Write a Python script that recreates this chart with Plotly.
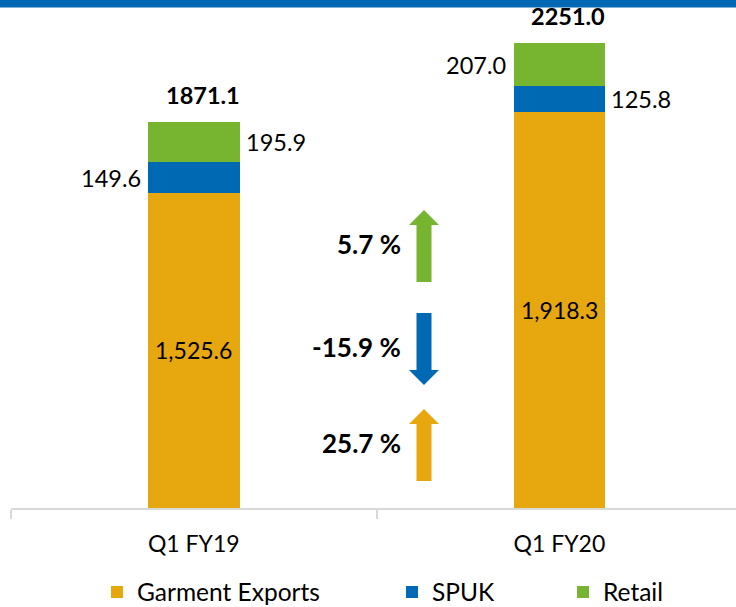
import plotly.graph_objects as go

# ---------------- data ----------------
categories = ["Q1 FY19", "Q1 FY20"]
garment_exports = [1525.6, 1918.3]
spuk = [149.6, 125.8]
retail = [195.9, 207.0]
totals = [1871.1, 2251.0]
series_names = ["Garment Exports", "SPUK", "Retail"]

# ---------------- style ----------------
C_GAR = "#E6A70F"
C_SPUK = "#0069B4"
C_RET = "#77B530"
FONT = "Lato"
W, H = 736, 607
ML, MR, MT, MB = 11, 0, 0, 99
PW, PH = W - ML - MR, H - MT - MB

def px(x):
    return (x - ML) / PW

def py(y):
    return (H - MB - y) / PH

series = [garment_exports, spuk, retail]
colors = [C_GAR, C_SPUK, C_RET]

fig = go.Figure()
legend_ids = ["legend", "legend2", "legend3"]
for name, vals, col, lg in zip(series_names, series, colors, legend_ids):
    fig.add_trace(go.Bar(
        x=categories, y=vals, name=name, marker=dict(color=col, line=dict(width=0)),
        width=0.25, legend=lg, hoverinfo="skip", showlegend=True,
    ))

def fmt_comma(v):
    return f"{v:,.1f}"

label_side = {  # side of bar for small segments, per category
    0: {"SPUK": "left", "Retail": "right"},
    1: {"SPUK": "right", "Retail": "left"},
}
annotations = []
for ci, cat in enumerate(categories):
    base = 0
    for name, vals in zip(series_names, series):
        v = vals[ci]
        mid = base + v / 2
        if name == "Garment Exports":
            annotations.append(dict(x=cat, y=mid, text=fmt_comma(v), showarrow=False,
                                    font=dict(family=FONT, size=23, color="#000")))
        else:
            side = label_side[ci][name]
            annotations.append(dict(
                x=cat, y=mid, text=f"{v:.1f}", showarrow=False,
                xanchor="right" if side == "left" else "left",
                xshift=-51 if side == "left" else 50,
                font=dict(family=FONT, size=23.5, color="#000")))
        base += v
    annotations.append(dict(x=cat, y=totals[ci], text=f"<b>{totals[ci]:.1f}</b>",
                            showarrow=False, yanchor="middle", yshift=27, xshift=9,
                            font=dict(family=FONT, size=23.5, color="#000")))

# growth arrows
growth = [(v[1] / v[0] - 1) * 100 for v in series]
row_centers = [445, 349, 246]  # pixel centers for garment, spuk, retail rows
shapes = [dict(type="rect", xref="paper", yref="paper", x0=px(0), x1=px(W + 5),
               y0=py(7.5), y1=py(-2), fillcolor="#0068B3", line=dict(width=0))]
acx = 424
for g, col, cy in zip(growth, colors, row_centers):
    half = 36
    sw, hw, hh = 7.5, 15, 15
    if g >= 0:
        tip, bot = cy - half, cy + half
        hb = tip + hh
    else:
        tip, bot = cy + half, cy - half
        hb = tip - hh
    pts = [(acx - sw, bot), (acx - sw, hb), (acx - hw, hb), (acx, tip),
           (acx + hw, hb), (acx + sw, hb), (acx + sw, bot)]
    path = "M " + " L ".join(f"{px(a):.5f},{py(b):.5f}" for a, b in pts) + " Z"
    shapes.append(dict(type="path", xref="paper", yref="paper", path=path,
                       fillcolor=col, line=dict(width=0)))
    annotations.append(dict(xref="paper", yref="paper", x=px(403), y=py(cy - 2),
                            xanchor="right", yanchor="middle", showarrow=False,
                            text=f"<b>{g:.1f} %</b>",
                            font=dict(family=FONT, size=26, color="#000")))

leg_common = dict(orientation="h", yanchor="middle", xanchor="left", y=py(592),
                  font=dict(family=FONT, size=24.5, color="#000"),
                  bgcolor="rgba(0,0,0,0)", borderwidth=0, itemclick=False,
                  itemdoubleclick=False)

fig.update_layout(
    width=W, height=H, barmode="stack", showlegend=True,
    margin=dict(l=ML, r=MR, t=MT, b=MB, pad=0, autoexpand=False),
    paper_bgcolor="white", plot_bgcolor="white",
    font=dict(family=FONT, size=23, color="#000"),
    xaxis=dict(range=[-0.5, 1.483], showline=True, linecolor="#d9d9d9", linewidth=1.5,
               ticks="outside", tickson="boundaries", ticklen=9, tickcolor="#d9d9d9",
               tickwidth=1.5, showgrid=False, zeroline=False, ticklabelstandoff=15,
               automargin=False,
               tickfont=dict(family=FONT, size=23, color="#000"), fixedrange=True),
    yaxis=dict(range=[0, 2460], visible=False, fixedrange=True, automargin=False),
    legend=dict(x=px(97), **leg_common),
    legend2=dict(x=px(392), **leg_common),
    legend3=dict(x=px(563), **leg_common),
    shapes=shapes, annotations=annotations,
)

fig.write_html("out.html", config={"displayModeBar": False},
               post_script="document.body.style.margin='0';")
